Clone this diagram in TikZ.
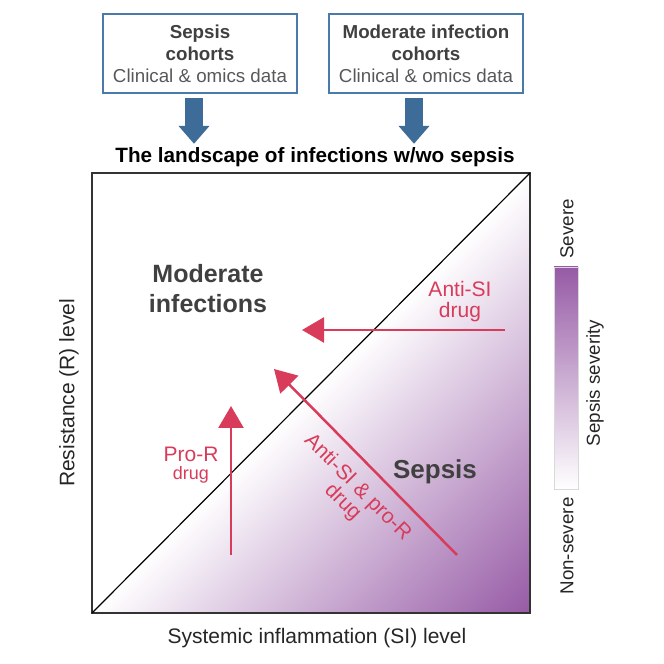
\documentclass[tikz,border=0pt]{standalone}
\usepackage{fontspec}
\setmainfont{Liberation Sans}
\usetikzlibrary{arrows.meta,positioning}
\definecolor{boxblue}{RGB}{74,122,170}
\definecolor{arrowblue}{RGB}{62,108,152}
\definecolor{drugred}{RGB}{216,60,90}
\definecolor{sepsispurple}{RGB}{150,90,165}
\definecolor{darktext}{RGB}{64,64,64}
\definecolor{textgray}{RGB}{88,88,88}

\begin{document}
\begin{tikzpicture}[x=1pt, y=1pt,
    cohort/.style = {draw=boxblue, line width=2pt, minimum width=194pt, minimum height=79pt, inner sep=0pt, align=center, text=darktext, font=\fontsize{18.75}{22}\selectfont},
    feed/.style = {arrowblue, line width=18pt, -{Triangle[length=18pt, width=30pt]}},
    drug/.style = {drugred, line width=2.5pt, -{Triangle[length=22pt, width=25pt]}},
    druglabel/.style = {text=drugred, align=center, font=\fontsize{21}{21}\selectfont},
    region/.style = {text=darktext, align=center, font=\bfseries\fontsize{25}{30}\selectfont},
    axislabel/.style = {text=black!85, font=\fontsize{21}{24}\selectfont},
    barlabel/.style = {text=black!85, rotate=90, font=\fontsize{18.75}{22}\selectfont}]
    \useasboundingbox (0,0) rectangle (664,664);

    \node[cohort] (sepbox) at (200,610.5) {{\bfseries Sepsis}\\{\bfseries cohorts}\\{\color{textgray}Clinical \& omics data}};
    \node[cohort, right=30pt of sepbox] (modbox) {{\bfseries Moderate infection}\\{\bfseries cohorts}\\{\color{textgray}Clinical \& omics data}};

    \node[font=\bfseries\fontsize{20.7}{24}\selectfont] (landscape) at (315,507) {The landscape of infections w/wo sepsis};

    \draw[feed] ([xshift=-6pt, yshift=-4pt]sepbox.south) -- ([xshift=-6pt]sepbox.south |- landscape.north);
    \draw[feed] ([xshift=-12pt, yshift=-4pt]modbox.south) -- ([xshift=-12pt]modbox.south |- landscape.north);

    \coordinate (sw) at (92,51);
    \coordinate (se) at (530,51);
    \coordinate (ne) at (530,491);
    \begin{scope}
        \clip (sw) -- (se) -- (ne) -- cycle;
        \begin{scope}[transform canvas={shift={(311,271)}, rotate=-45}]
            \shade[left color=white, right color=sepsispurple] (0,-340) rectangle (311,340);
        \end{scope}
    \end{scope}
    \draw[line width=1.5pt, black!80] (sw) rectangle (ne);
    \draw[line width=1.2pt] (sw) -- (ne);

    \node[region] (modinf) at (208,375) {Moderate\\infections};
    \node[region, font=\bfseries\fontsize{26}{30}\selectfont] (sepsis) at (435,192) {Sepsis};

    \coordinate (siTail) at (505,334);
    \coordinate (siTip) at (302,334);
    \coordinate (rTail) at (231,109);
    \coordinate (rTip) at (231,258);
    \coordinate (bothTail) at (457,109);
    \coordinate (bothTip) at (274,295);
    \draw[drug] (siTail) -- (siTip);
    \draw[drug] (rTail) -- (rTip);
    \draw[drug] (bothTail) -- (bothTip);

    \node[druglabel] (antisi) at (460,362) {Anti-SI\\drug};
    \node[druglabel] (pror) at (191,199) {Pro-R\\[-3pt]{\fontsize{18}{18}\selectfont drug}};
    \node[druglabel, rotate=-45] (both) at (350,169) {Anti-SI \& pro-R\\drug};

    \node[axislabel] (silevel) at (317,26) {Systemic inflammation (SI) level};
    \node[axislabel, rotate=90] (rlevel) at (69,271) {Resistance (R) level};

    \shade[bottom color=white, top color=sepsispurple, draw=black!15, line width=0.8pt] (554,175) rectangle (578,397);
    \node[barlabel] (severe) at (567,435) {Severe};
    \node[barlabel] (nonsevere) at (567,118) {Non-severe};
    \node[barlabel] (severity) at (595,281) {Sepsis severity};
\end{tikzpicture}
\end{document}
